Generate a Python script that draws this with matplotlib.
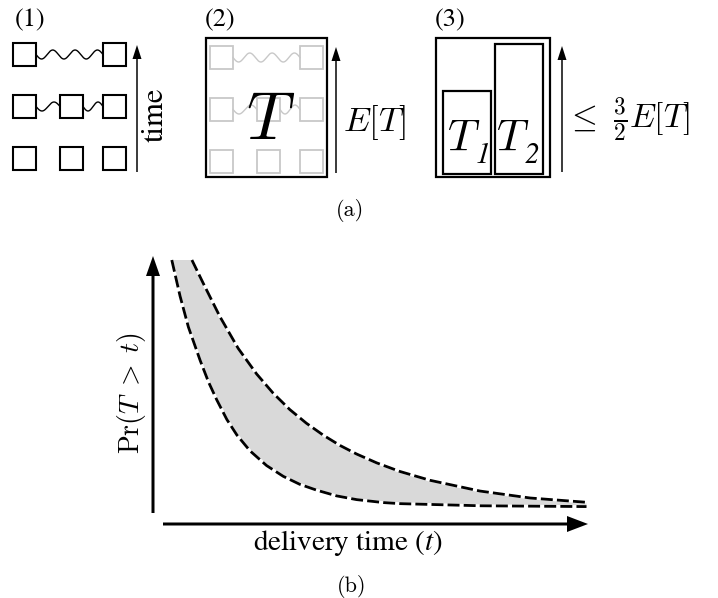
import matplotlib.pyplot as plt
import numpy as np
from matplotlib.patches import Rectangle

plt.rcParams["font.family"] = ["STIXGeneral", "DejaVu Serif"]
plt.rcParams["mathtext.fontset"] = "cm"

# tail curves of panel (b): delivery time t vs Pr(T > t)
t_lower = [0.43, 0.62, 0.81, 1.08, 1.27, 1.46, 1.69, 1.92, 2.22, 2.60, 2.98, 3.36, 3.75,
           4.20, 4.66, 5.27, 5.65, 7.5, 9.92]
p_lower = [0.985, 0.85, 0.735, 0.61, 0.53, 0.463, 0.39, 0.332, 0.273, 0.218, 0.178, 0.148,
           0.126, 0.105, 0.091, 0.080, 0.076, 0.068, 0.065]
t_upper = [0.89, 1.15, 1.53, 1.95, 2.37, 2.75, 3.13, 3.51, 3.90, 4.28, 4.66, 5.12, 5.65,
           6.34, 7.48, 8.63, 9.92]
p_upper = [0.985, 0.898, 0.774, 0.655, 0.56, 0.488, 0.427, 0.376, 0.331, 0.293, 0.261,
           0.228, 0.196, 0.163, 0.123, 0.097, 0.081]

# panel (a): which tasks sit in each row (top to bottom) and the links between them
task_rows = [[1, 0, 1], [1, 1, 1], [1, 1, 1]]
task_links = [[(0, 2)], [(0, 1), (1, 2)], []]
panel_labels = ["(1)", "(2)", "(3)"]

W, H = 718, 598
fig = plt.figure(figsize=(W / 100, H / 100), dpi=100)
ax = fig.add_axes([0, 0, 1, 1])
ax.set_xlim(0, W)
ax.set_ylim(H, 0)
ax.axis("off")

SQ = 23
COLS = [0, 47, 90]
ROWS = [0, 52, 104]


def draw_tasks(x0, y0, color, lw):
    for r, row in enumerate(task_rows):
        for c, present in enumerate(row):
            if present:
                ax.add_patch(Rectangle((x0 + COLS[c], y0 + ROWS[r]), SQ, SQ,
                                       fill=False, ec=color, lw=lw))
        for a, b in task_links[r]:
            xa = x0 + COLS[a] + SQ
            xb = x0 + COLS[b]
            n = max(1, round((xb - xa) / 22))
            xs = np.linspace(xa, xb, 200)
            ys = y0 + ROWS[r] + SQ / 2 + 4.5 * np.sin(2 * np.pi * n * (xs - xa) / (xb - xa))
            ax.plot(xs, ys, color=color, lw=1.0)


def up_arrow(x, y0, y1, lw=1.5, hw=9, hl=14):
    ax.arrow(x, y0, 0, y1 - y0, width=lw, head_width=hw, head_length=hl,
             length_includes_head=True, fc="k", ec="k", lw=0)


def sub_label(x, sub):
    # italic T with an italic subscript digit, as in the reference
    ax.text(x, 141, "$T$", fontsize=32, ha="center", va="center")
    ax.text(x + 19, 156, sub, fontsize=21, style="italic", ha="center", va="center")


# (1)
ax.text(30, 20, panel_labels[0], fontsize=19, ha="center", va="center")
draw_tasks(13, 43, "k", 1.5)
up_arrow(137, 172, 45)
ax.text(156, 115, "time", fontsize=22, rotation=90, ha="center", va="center")

# (2)
ax.text(220, 20, panel_labels[1], fontsize=19, ha="center", va="center")
draw_tasks(210, 46, "#c8c8c8", 1.3)
ax.add_patch(Rectangle((206, 38), 121, 139, fill=False, ec="k", lw=1.6))
ax.text(271, 124, "$T$", fontsize=48, ha="center", va="center")
up_arrow(336, 173, 47)
ax.text(375, 123, "$E[T]$", fontsize=25, ha="center", va="center")

# (3)
ax.text(450, 20, panel_labels[2], fontsize=19, ha="center", va="center")
ax.add_patch(Rectangle((436, 38), 114, 139, fill=False, ec="k", lw=1.6))
ax.add_patch(Rectangle((443, 91), 48, 83, fill=False, ec="k", lw=1.6))
ax.add_patch(Rectangle((495, 44), 48, 130, fill=False, ec="k", lw=1.6))
sub_label(464, "1")
sub_label(513, "2")
up_arrow(562, 172, 46)
ax.text(628, 120, r"$\leq\ \frac{3}{2}E[T]$", fontsize=24, ha="center", va="center")

ax.text(350, 211, "(a)", fontsize=16, family="cmr10", ha="center", va="center")

# (b)
axb = fig.add_axes([153 / W, 1 - 524 / H, 437 / W, 268 / H])
axb.set_xlim(0, 10)
axb.set_ylim(0, 1)
axb.axis("off")
axb.fill(np.concatenate([t_lower, t_upper[::-1]]),
         np.concatenate([p_lower, p_upper[::-1]]),
         color="#d9d9d9", lw=0)
for ts, ps in [(t_lower, p_lower), (t_upper, p_upper)]:
    axb.plot(ts, ps, color="white", lw=2.0, solid_capstyle="butt")
    axb.plot(ts, ps, color="k", lw=2.0, linestyle=(0, (4.3, 1.5)))

up_arrow(153, 513, 256, lw=3, hw=14, hl=20)
ax.arrow(163, 524, 588 - 163, 0, width=3, head_width=16, head_length=21,
         length_includes_head=True, fc="k", ec="k", lw=0)
ax.text(131, 393, r"$\mathrm{Pr}(T\;>\;t)$", fontsize=20, rotation=90, ha="center", va="center")
ax.text(348, 543, "delivery time ($t$)", fontsize=21, ha="center", va="center",
        math_fontfamily="stix")
ax.text(352, 587, "(b)", fontsize=16, family="cmr10", ha="center", va="center")

fig.savefig("out.png", dpi=100)
